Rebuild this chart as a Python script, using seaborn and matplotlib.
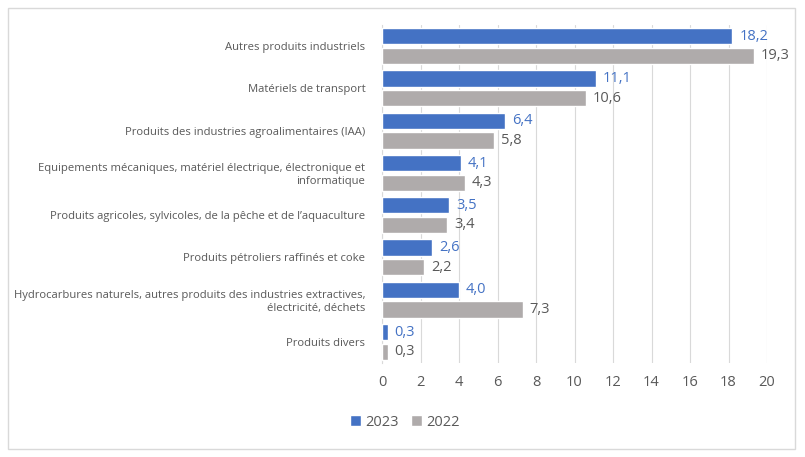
import matplotlib
matplotlib.use("Agg")
import matplotlib.pyplot as plt
import seaborn as sns
import pandas as pd
from matplotlib.patches import Rectangle

categories = [
    "Autres produits industriels",
    "Matériels de transport",
    "Produits des industries agroalimentaires (IAA)",
    "Equipements mécaniques, matériel électrique, électronique et\ninformatique",
    "Produits agricoles, sylvicoles, de la pêche et de l\u2019aquaculture",
    "Produits pétroliers raffinés et coke",
    "Hydrocarbures naturels, autres produits des industries extractives,\nélectricité, déchets",
    "Produits divers",
]
values_2023 = [18.2, 11.1, 6.4, 4.1, 3.5, 2.6, 4.0, 0.3]
values_2022 = [19.3, 10.6, 5.8, 4.3, 3.4, 2.2, 7.3, 0.3]
series = ["2023", "2022"]
colors = {"2023": "#4472C4", "2022": "#AFABAB"}
xticks = list(range(0, 21, 2))

df = pd.DataFrame({
    "cat": categories * 2,
    "val": values_2023 + values_2022,
    "year": ["2023"] * len(categories) + ["2022"] * len(categories),
})

sns.set_theme(style="white")
plt.rcParams["font.family"] = ["Open Sans", "DejaVu Sans"]

fig = plt.figure(figsize=(8.05, 4.57), dpi=100)
ax = fig.add_axes([382 / 805, 1 - 363 / 457, (767 - 382) / 805, (363 - 25) / 457])

sns.barplot(data=df, x="val", y="cat", hue="year", hue_order=series,
            palette=colors, orient="h", width=0.93, gap=0.0, ax=ax,
            saturation=1, legend=True, zorder=3)

for cont in ax.containers:
    for p in cont:
        h = p.get_height()
        p.set_height(h * 0.83)
        p.set_y(p.get_y() + h * 0.085)

for cont, yr in zip(ax.containers, series):
    ax.bar_label(cont, labels=[f"{v:.1f}".replace(".", ",") for v in cont.datavalues],
                 padding=5, color="#4472C4" if yr == "2023" else "#595959",
                 fontsize=10.5)

ax.set_xlim(0, 20)
ax.set_xticks(xticks)
ax.set_xticklabels([str(t) for t in xticks], fontsize=10.5, color="#595959")
ax.tick_params(axis="x", length=0, pad=9)
ax.tick_params(axis="y", length=0, pad=12)
ax.set_yticklabels(categories, fontsize=8.1, color="#595959", linespacing=1.25)
ax.set_xlabel("")
ax.set_ylabel("")
ax.grid(axis="x", color="#D9D9D9", linewidth=0.8, zorder=0)
for s in ["top", "right", "bottom"]:
    ax.spines[s].set_visible(False)
ax.spines["left"].set_color("#D9D9D9")
ax.spines["left"].set_linewidth(0.8)

leg = ax.legend(loc="center", bbox_to_anchor=(405 / 805, 1 - 422 / 457),
                bbox_transform=fig.transFigure, ncol=2, frameon=False,
                fontsize=10.5, handlelength=0.75, handleheight=0.75,
                handletextpad=0.3, columnspacing=0.8)
for t in leg.get_texts():
    t.set_color("#595959")

fig.patches.append(Rectangle((8 / 805, 1 - 449 / 457), (795 - 8) / 805, (449 - 8) / 457,
                             transform=fig.transFigure, fill=False,
                             edgecolor="#D9D9D9", linewidth=1))

fig.savefig("out.png", dpi=100)
